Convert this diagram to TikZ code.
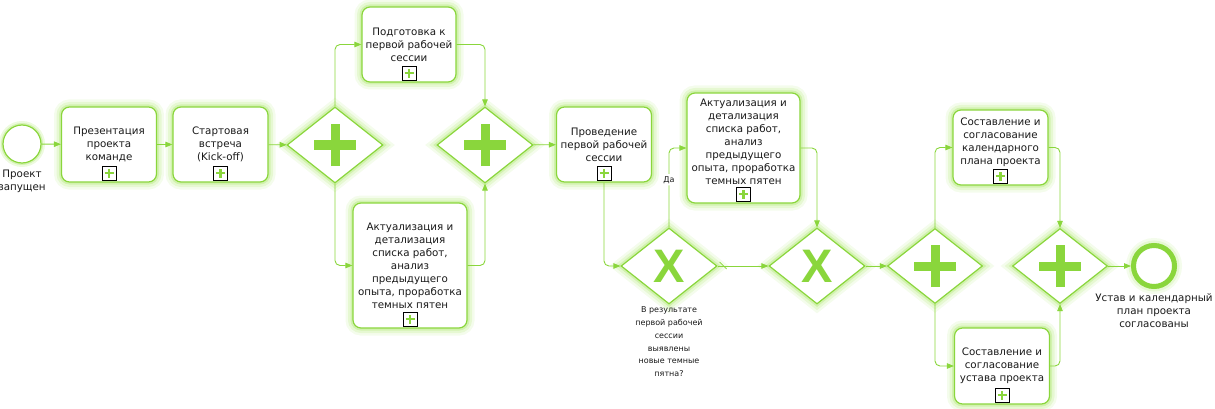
\documentclass[tikz,border=0pt]{standalone}
\usepackage{fontspec}
\setmainfont{DejaVu Sans}
\newfontfamily\gatefont{Liberation Sans}
\usepackage{tikz}
\usetikzlibrary{shapes.geometric, arrows.meta, positioning}

\definecolor{bpmngreen}{RGB}{138,214,60}
\definecolor{glowgreen}{RGB}{196,238,150}
\definecolor{inkgray}{RGB}{25,25,25}

\begin{document}
\begin{tikzpicture}[
    x=1pt, y=-1pt,
    font=\fontsize{10.3}{13}\selectfont,
    glow/.style={preaction={draw=glowgreen, line width=15pt, opacity=0.18},
                 preaction={draw=glowgreen, line width=10pt, opacity=0.3},
                 preaction={draw=glowgreen, line width=5pt, opacity=0.6}},
    task/.style={rectangle, draw=bpmngreen, line width=1.2pt, rounded corners=8pt, fill=white, glow,
                 minimum width=95pt, minimum height=75pt, align=center, text=inkgray, inner sep=2pt},
    gate/.style={diamond, draw=bpmngreen, line width=1.2pt, fill=white, glow,
                 minimum width=96pt, minimum height=76pt, inner sep=0pt},
    parallel/.style={gate, path picture={
        \draw[bpmngreen, line width=9pt]
          ([xshift=-21pt]path picture bounding box.center) -- ([xshift=21pt]path picture bounding box.center)
          ([yshift=-21pt]path picture bounding box.center) -- ([yshift=21pt]path picture bounding box.center);}},
    exclusive/.style={gate, text=bpmngreen, font=\gatefont\bfseries\fontsize{47}{47}\selectfont},
    submark/.style={rectangle, draw=black, line width=0.7pt, fill=white, minimum size=14pt, inner sep=0pt,
        path picture={
        \draw[bpmngreen, line width=2.4pt]
          ([xshift=-4.5pt]path picture bounding box.center) -- ([xshift=4.5pt]path picture bounding box.center)
          ([yshift=-4.5pt]path picture bounding box.center) -- ([yshift=4.5pt]path picture bounding box.center);}},
    startevent/.style={circle, draw=bpmngreen, line width=1.2pt, fill=white, minimum size=38pt, inner sep=0pt,
                       preaction={draw=glowgreen, line width=8pt, opacity=0.3},
                       preaction={draw=glowgreen, line width=4pt, opacity=0.6}},
    endevent/.style={circle, draw=bpmngreen, line width=5pt, fill=white, minimum size=41pt, inner sep=0pt, glow},
    evlabel/.style={align=center, text=inkgray, inner sep=0pt},
    gwlabel/.style={align=center, text=inkgray, inner sep=0pt, font=\fontsize{8}{12.8}\selectfont},
    flow/.style={draw=bpmngreen, line width=0.9pt, rounded corners=5pt, -{Triangle[length=7pt, width=5.5pt]}}
]
\useasboundingbox (0,0) rectangle (1215,409);

% Start
\node[startevent] (start) at (22,144) {};
\node[evlabel, below=6pt of start] (start-lbl) {Проект\\запущен};

% Kick-off
\node[task] (pres) at (109,144.5) {Презентация\\проекта\\команде};
\node[task] (kick) at (220.5,144.5) {Стартовая\\встреча\\(Kick-off)};

% First split
\node[parallel] (g1) at (335,145) {};
\node[task, minimum width=94pt] (prep) at (409,44.5) {Подготовка к\\первой рабочей\\сессии};
\node[task, minimum width=114pt, minimum height=125pt] (upd1) at (410,265.5)
    {Актуализация и\\детализация\\списка работ,\\анализ\\предыдущего\\опыта, проработка\\темных пятен};
\node[parallel] (g2) at (485,145) {};

% Working session
\node[task] (session) at (604,144.5) {Проведение\\первой рабочей\\сессии};
\node[exclusive] (x1) at (669,266) {X};
\node[gwlabel, below=2pt of x1] (x1-lbl) {В результате\\первой рабочей\\сессии\\выявлены\\новые темные\\пятна?};
\node[task, minimum width=113pt, minimum height=110pt, text depth=13pt] (upd2) at (743.5,148)
    {Актуализация и\\детализация\\списка работ,\\анализ\\предыдущего\\опыта, проработка\\темных пятен};
\node[exclusive] (x2) at (817,266) {X};

% Second split
\node[parallel, minimum width=95pt, minimum height=75pt] (g3) at (935,266) {};
\node[task, text depth=12pt] (sched) at (1000.5,147.5) {Составление и\\согласование\\календарного\\плана проекта};
\node[task, minimum height=76pt] (charter) at (1002,366) {Составление и\\согласование\\устава проекта};
\node[parallel, minimum width=95pt, minimum height=75pt] (g4) at (1060,266) {};

% End
\node[endevent] (end) at (1154,266) {};
\node[evlabel, below=4pt of end] (end-lbl) {Устав и календарный\\план проекта\\согласованы};

% Subprocess markers
\foreach \t in {pres, kick, prep, upd1, session, upd2, sched, charter}
    \node[submark] (\t-mk) at ([yshift=9.5pt]\t.south) {};

% Flows
\draw[flow] (start) -- (pres);
\draw[flow] (pres) -- (kick);
\draw[flow] (kick) -- (g1);
\draw[flow] (g1.north) |- (prep);
\draw[flow] (g1.south) |- (upd1);
\draw[flow] (prep) -| (g2.north);
\draw[flow] (upd1) -| (g2.south);
\draw[flow] (g2) -- (session);
\draw[flow] (session) |- (x1.west);
\draw[flow] (x1.north) |- node[pos=0.3, fill=white, inner sep=2pt, text=inkgray, font=\fontsize{8}{10}\selectfont] (yes-lbl) {Да} (upd2);
\draw[flow] (upd2) -| (x2.north);
\draw[flow] (x1) -- (x2);
\draw[bpmngreen, line width=0.8pt] ([shift={(2,-4)}]x1.east) -- ([shift={(9,3)}]x1.east);
\draw[flow] (x2) -- (g3);
\draw[flow] (g3.north) |- (sched);
\draw[flow] (g3.south) |- (charter);
\draw[flow] (sched) -| (g4.north);
\draw[flow] (charter) -| (g4.south);
\draw[flow] (g4) -- (end);

\end{tikzpicture}
\end{document}
